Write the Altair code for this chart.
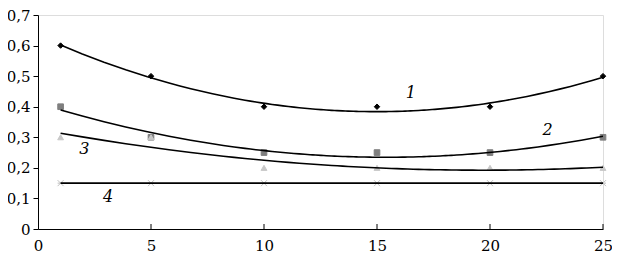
import altair as alt
import pandas as pd

x_vals = [1, 5, 10, 15, 20, 25]
s1 = [0.6, 0.5, 0.4, 0.4, 0.4, 0.5]
s2 = [0.4, 0.3, 0.25, 0.25, 0.25, 0.3]
s3 = [0.3, 0.3, 0.2, 0.2, 0.2, 0.2]
s4 = [0.15, 0.15, 0.15, 0.15, 0.15, 0.15]
series_names = ["1", "2", "3", "4"]

label_x = [16.5, 22.55, 2.05, 3.1]
label_y = [0.444, 0.325, 0.262, 0.105]
label_text = ["1", "2", "3", "4"]

x_ticks = [0, 5, 10, 15, 20, 25]
y_ticks = [0, 0.1, 0.2, 0.3, 0.4, 0.5, 0.6, 0.7]

rows = []
for name, vals in zip(series_names, [s1, s2, s3, s4]):
    for xv, yv in zip(x_vals, vals):
        rows.append({"x": xv, "y": yv, "series": name})
df = pd.DataFrame(rows)
labels = pd.DataFrame({"x": label_x, "y": label_y, "t": label_text})
tick_df = pd.DataFrame({"x": x_ticks[1:]})

FONT = "DejaVu Serif"
xs = alt.Scale(domain=[0, 25], nice=False, zero=False)
ys = alt.Scale(domain=[0, 0.7], nice=False)

xax = alt.Axis(values=x_ticks, grid=False, ticks=False, domain=True, domainColor="#000000",
               labelFont=FONT, labelFontSize=15, labelColor="#000000", labelPadding=9,
               labelOverlap=False, labelFlush=False, labelBound=False, title=None)
yax = alt.Axis(values=y_ticks, grid=False, tickSize=5, tickColor="#000000", domainColor="#000000",
               labelFont=FONT, labelFontSize=15, labelColor="#000000", labelPadding=3,
               labelOverlap=False, labelFlush=False, labelBound=False, title=None,
               labelExpr="datum.value == 0 ? '0' : replace(format(datum.value, '.1f'), '.', ',')")

shape_range = [
    "diamond",
    "square",
    "triangle-up",
    "M-1,-1L1,1M1,-1L-1,1M-1,0L1,0",
]
color_range = ["#000000", "#7f7f7f", "#c8c8c8", "#c0c0c0"]
size_range = [30, 36, 30, 22]

base = alt.Chart(df)

points = base.mark_point(filled=True, strokeWidth=1, opacity=1).encode(
    x=alt.X("x:Q", scale=xs, axis=xax),
    y=alt.Y("y:Q", scale=ys, axis=yax),
    shape=alt.Shape("series:N", scale=alt.Scale(domain=series_names, range=shape_range), legend=None),
    fill=alt.Fill("series:N", scale=alt.Scale(domain=series_names, range=color_range), legend=None),
    stroke=alt.Stroke("series:N", scale=alt.Scale(domain=series_names, range=color_range), legend=None),
    size=alt.Size("series:N", scale=alt.Scale(domain=series_names, range=size_range), legend=None),
)

curves = base.transform_regression(
    "x", "y", groupby=["series"], method="poly", order=2, extent=[1, 25]
).mark_line(color="#000000", strokeWidth=1.6).encode(
    x=alt.X("x:Q", scale=xs, axis=xax),
    y=alt.Y("y:Q", scale=ys, axis=yax),
    detail="series:N",
)

xticks = alt.Chart(tick_df).mark_rule(color="#000000", strokeWidth=1).encode(
    x=alt.X("x:Q", scale=xs, axis=xax),
    y=alt.value(214),
    y2=alt.value(209),
)

text = alt.Chart(labels).mark_text(
    font=FONT, fontSize=16, fontStyle="italic", color="#000000"
).encode(
    x=alt.X("x:Q", scale=xs, axis=xax),
    y=alt.Y("y:Q", scale=ys, axis=yax),
    text="t:N",
)

chart = alt.layer(points, curves, xticks, text).properties(
    width=565, height=214,
    autosize=alt.AutoSizeParams(type="none"),
    padding={"left": 30, "top": 7, "right": 9, "bottom": 32},
).configure_view(stroke="#808080", strokeWidth=1.5).configure(
    background="#ffffff", font=FONT
).configure_axis(labelFont=FONT, labelOverlap=False)

chart.save("out.html", embed_options={"renderer": "svg", "actions": False})
